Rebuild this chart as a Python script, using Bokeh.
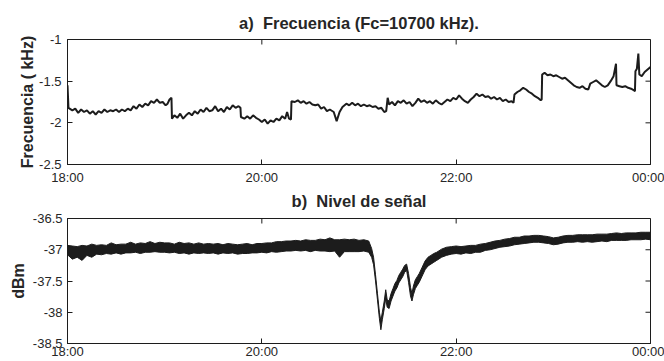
import math
from bokeh.plotting import figure
from bokeh.layouts import column
from bokeh.models import FixedTicker, Range1d, Title
from bokeh.embed import file_html
from bokeh.resources import INLINE

# ---------------- data ----------------
x_ticks = [0, 2, 4, 6]
x_tick_labels = ["18:00", "20:00", "22:00", "00:00"]

freq_ticks = [-2.5, -2.0, -1.5, -1.0]
freq_tick_labels = ["-2.5", "-2", "-1.5", "-1"]
lvl_ticks = [-38.5, -38.0, -37.5, -37.0, -36.5]
lvl_tick_labels = ["-38.5", "-38", "-37.5", "-37", "-36.5"]

# frequency offset (kHz) vs hours after 18:00
freq_t = [0.00, 0.01, 0.05, 0.08, 0.11, 0.14, 0.17, 0.20, 0.23, 0.26, 0.29, 0.32, 0.35, 0.38, 0.41, 0.44,
          0.47, 0.50, 0.53, 0.56, 0.59, 0.62, 0.65, 0.68, 0.71, 0.74, 0.77, 0.80, 0.83, 0.86, 0.89, 0.92,
          0.95, 0.98, 1.01, 1.03, 1.05, 1.07, 1.075, 1.10, 1.13, 1.16, 1.19, 1.22, 1.25, 1.28, 1.31, 1.34,
          1.37, 1.40, 1.43, 1.46, 1.49, 1.52, 1.55, 1.58, 1.61, 1.64, 1.67, 1.70, 1.73, 1.76, 1.78, 1.785,
          1.82, 1.85, 1.88, 1.91, 1.94, 1.97, 2.00, 2.03, 2.06, 2.09, 2.12, 2.15, 2.18, 2.21, 2.24, 2.26,
          2.28, 2.30, 2.305, 2.34, 2.37, 2.40, 2.43, 2.46, 2.49, 2.52, 2.55, 2.58, 2.61, 2.64, 2.67, 2.70,
          2.74, 2.77, 2.80, 2.83, 2.87, 2.90, 2.93, 2.96, 2.99, 3.02, 3.05, 3.08, 3.11, 3.14, 3.17, 3.20,
          3.23, 3.26, 3.28, 3.295, 3.31, 3.34, 3.37, 3.40, 3.43, 3.46, 3.49, 3.52, 3.55, 3.58, 3.61, 3.64,
          3.67, 3.70, 3.73, 3.76, 3.79, 3.82, 3.85, 3.88, 3.91, 3.94, 3.97, 4.00, 4.03, 4.06, 4.09, 4.12,
          4.15, 4.18, 4.21, 4.24, 4.27, 4.30, 4.33, 4.36, 4.39, 4.42, 4.45, 4.48, 4.51, 4.54, 4.57, 4.59,
          4.60, 4.63, 4.66, 4.69, 4.72, 4.75, 4.78, 4.81, 4.84, 4.87, 4.88, 4.885, 4.91, 4.94, 4.97, 5.00,
          5.03, 5.06, 5.09, 5.12, 5.15, 5.18, 5.21, 5.24, 5.27, 5.30, 5.33, 5.36, 5.38, 5.41, 5.44, 5.47,
          5.50, 5.53, 5.56, 5.59, 5.62, 5.645, 5.65, 5.68, 5.71, 5.74, 5.77, 5.80, 5.83, 5.84, 5.845, 5.86,
          5.875, 5.885, 5.91, 5.94, 5.97, 6.00]
freq_v = [-1.55, -1.82, -1.85, -1.83, -1.88, -1.84, -1.87, -1.85, -1.89, -1.86, -1.90, -1.86, -1.88, -1.84, -1.87, -1.85,
          -1.86, -1.84, -1.87, -1.84, -1.86, -1.83, -1.85, -1.80, -1.83, -1.78, -1.81, -1.77, -1.79, -1.74, -1.76, -1.72,
          -1.76, -1.75, -1.79, -1.77, -1.72, -1.70, -1.95, -1.91, -1.94, -1.89, -1.95, -1.91, -1.88, -1.91, -1.86, -1.89,
          -1.84, -1.87, -1.82, -1.86, -1.85, -1.80, -1.86, -1.83, -1.87, -1.81, -1.84, -1.79, -1.82, -1.80, -1.82, -1.93,
          -1.95, -1.92, -1.95, -1.91, -1.94, -1.96, -1.99, -1.96, -2.01, -1.97, -1.99, -1.95, -1.97, -1.92, -1.95, -1.87,
          -1.95, -1.96, -1.74, -1.75, -1.73, -1.76, -1.74, -1.77, -1.75, -1.78, -1.79, -1.78, -1.83, -1.81, -1.86, -1.84,
          -1.87, -1.98, -1.87, -1.81, -1.77, -1.79, -1.76, -1.79, -1.77, -1.80, -1.78, -1.80, -1.79, -1.81, -1.80, -1.83,
          -1.82, -1.87, -1.86, -1.70, -1.78, -1.75, -1.79, -1.74, -1.76, -1.73, -1.77, -1.75, -1.80, -1.76, -1.71, -1.75,
          -1.73, -1.76, -1.74, -1.77, -1.73, -1.76, -1.78, -1.75, -1.72, -1.74, -1.70, -1.72, -1.67, -1.71, -1.74, -1.76,
          -1.72, -1.69, -1.65, -1.68, -1.66, -1.69, -1.68, -1.71, -1.69, -1.72, -1.70, -1.74, -1.72, -1.75, -1.74, -1.76,
          -1.66, -1.63, -1.61, -1.58, -1.60, -1.63, -1.65, -1.68, -1.70, -1.73, -1.72, -1.42, -1.40, -1.43, -1.42, -1.44,
          -1.43, -1.45, -1.47, -1.46, -1.49, -1.52, -1.55, -1.57, -1.58, -1.56, -1.59, -1.60, -1.53, -1.51, -1.49, -1.52,
          -1.55, -1.57, -1.55, -1.50, -1.44, -1.29, -1.55, -1.56, -1.57, -1.56, -1.58, -1.59, -1.61, -1.62, -1.38, -1.35,
          -1.17, -1.42, -1.44, -1.39, -1.36, -1.33]

# signal level (dBm): upper / lower edge of the noisy trace vs hours after 18:00
lvl_t = [0.00, 0.05, 0.10, 0.15, 0.20, 0.25, 0.30, 0.35, 0.40, 0.45, 0.50, 0.55, 0.60, 0.65, 0.70, 0.75,
         0.80, 0.85, 0.90, 0.95, 1.00, 1.05, 1.10, 1.15, 1.20, 1.25, 1.30, 1.35, 1.40, 1.45, 1.50, 1.55,
         1.60, 1.65, 1.70, 1.75, 1.80, 1.85, 1.90, 1.95, 2.00, 2.05, 2.10, 2.15, 2.20, 2.25, 2.30, 2.35,
         2.40, 2.45, 2.50, 2.55, 2.60, 2.65, 2.70, 2.75, 2.80, 2.85, 2.90, 2.95, 3.00, 3.05, 3.10,
         3.13, 3.15, 3.17, 3.19, 3.21, 3.225, 3.24, 3.26, 3.275, 3.29, 3.31, 3.33, 3.35, 3.37, 3.39, 3.41,
         3.43, 3.45, 3.47, 3.49, 3.51, 3.53, 3.545, 3.56, 3.58, 3.60, 3.62, 3.65, 3.68, 3.71, 3.74, 3.77,
         3.80, 3.85, 3.90, 3.95, 4.00, 4.05, 4.10, 4.15, 4.20, 4.25, 4.30, 4.35, 4.40, 4.45, 4.50, 4.55,
         4.60, 4.65, 4.70, 4.75, 4.80, 4.85, 4.90, 4.95, 5.00, 5.05, 5.10, 5.15, 5.20, 5.25, 5.30, 5.35,
         5.40, 5.45, 5.50, 5.55, 5.60, 5.65, 5.70, 5.75, 5.80, 5.85, 5.90, 5.95, 6.00]
lvl_hi = [-36.93, -36.94, -36.95, -36.93, -36.94, -36.91, -36.93, -36.92, -36.93, -36.89, -36.92, -36.91, -36.91, -36.88, -36.91, -36.89,
          -36.90, -36.87, -36.90, -36.88, -36.89, -36.89, -36.91, -36.88, -36.90, -36.89, -36.91, -36.89, -36.91, -36.90, -36.91, -36.90,
          -36.92, -36.90, -36.91, -36.92, -36.91, -36.90, -36.92, -36.90, -36.90, -36.89, -36.89, -36.87, -36.87, -36.86, -36.86, -36.85,
          -36.86, -36.84, -36.85, -36.85, -36.83, -36.84, -36.81, -36.84, -36.84, -36.83, -36.84, -36.83, -36.85, -36.84, -36.86,
          -36.98, -37.12, -37.40, -37.70, -38.00, -38.14, -38.00, -37.82, -37.64, -37.80, -37.82, -37.70, -37.62, -37.54, -37.49, -37.41,
          -37.36, -37.31, -37.25, -37.23, -37.38, -37.60, -37.70, -37.58, -37.48, -37.43, -37.38, -37.28, -37.18, -37.12, -37.09, -37.06,
          -37.04, -36.99, -36.96, -36.95, -36.94, -36.95, -36.94, -36.93, -36.93, -36.91, -36.90, -36.88, -36.86, -36.85, -36.83, -36.82,
          -36.80, -36.80, -36.78, -36.78, -36.77, -36.77, -36.78, -36.79, -36.81, -36.80, -36.78, -36.77, -36.77, -36.76, -36.76, -36.76,
          -36.76, -36.75, -36.75, -36.75, -36.74, -36.73, -36.74, -36.73, -36.73, -36.73, -36.72, -36.72, -36.72]
lvl_lo = [-37.08, -37.15, -37.12, -37.17, -37.09, -37.12, -37.07, -37.08, -37.06, -37.07, -37.05, -37.07, -37.05, -37.05, -37.04, -37.06,
          -37.04, -37.04, -37.03, -37.04, -37.04, -37.05, -37.04, -37.06, -37.05, -37.07, -37.05, -37.06, -37.05, -37.06, -37.05, -37.07,
          -37.05, -37.06, -37.05, -37.07, -37.06, -37.06, -37.05, -37.05, -37.04, -37.05, -37.03, -37.04, -37.03, -37.02, -37.02, -37.01,
          -37.02, -37.01, -37.03, -37.01, -37.02, -37.02, -37.03, -37.02, -37.12, -37.03, -37.03, -37.03, -37.03, -37.02, -37.04,
          -37.12, -37.24, -37.50, -37.80, -38.10, -38.28, -38.12, -37.94, -37.78, -37.92, -37.94, -37.82, -37.74, -37.66, -37.61, -37.53,
          -37.48, -37.43, -37.36, -37.33, -37.52, -37.74, -37.82, -37.72, -37.62, -37.57, -37.52, -37.42, -37.32, -37.26, -37.23, -37.20,
          -37.17, -37.12, -37.09, -37.07, -37.06, -37.07, -37.05, -37.06, -37.04, -37.04, -37.01, -37.00, -36.98, -36.96, -36.95, -36.94,
          -36.92, -36.91, -36.90, -36.89, -36.88, -36.88, -36.89, -36.90, -36.92, -36.91, -36.89, -36.88, -36.88, -36.87, -36.88, -36.87,
          -36.88, -36.87, -36.86, -36.87, -36.85, -36.85, -36.85, -36.85, -36.84, -36.84, -36.84, -36.83, -36.84]

# ---------------- styling ----------------
FONT = "Liberation Sans"
INK = "#1c1c1c"
TXT = "#262626"


def make_title(text, standoff):
    return Title(text=text, align="center", text_font=FONT, text_font_size="16.5px",
                 text_font_style="bold", text_color=TXT, standoff=standoff,
                 vertical_align="bottom")


def base_fig(height, yr, yticks, ylabels, ylabel, mb_left, mb_top, mb_bottom,
             y_std, ylab_std, x_std):
    p = figure(width=664, height=height, output_backend="svg", toolbar_location=None,
               x_range=Range1d(0, 6), y_range=Range1d(*yr),
               min_border_left=mb_left, min_border_right=14, min_border_top=mb_top,
               min_border_bottom=mb_bottom)
    p.grid.visible = False
    p.outline_line_color = INK
    p.outline_line_width = 1
    p.background_fill_color = "white"
    p.border_fill_color = "white"

    xa = p.xaxis[0]
    xa.ticker = FixedTicker(ticks=x_ticks)
    xa.major_label_overrides = {t: l for t, l in zip(x_ticks, x_tick_labels)}
    xa.major_label_standoff = x_std
    ya = p.yaxis[0]
    ya.ticker = FixedTicker(ticks=yticks)
    ya.major_label_overrides = {t: l for t, l in zip(yticks, ylabels)}
    ya.axis_label = ylabel
    ya.axis_label_text_font = FONT
    ya.axis_label_text_font_size = "16px"
    ya.axis_label_text_font_style = "bold"
    ya.axis_label_text_color = TXT
    ya.axis_label_standoff = ylab_std
    ya.major_label_standoff = y_std
    for ax in (xa, ya):
        ax.major_label_text_font = FONT
        ax.major_label_text_font_size = "13px"
        ax.major_label_text_color = TXT
        ax.axis_line_color = INK
        ax.major_tick_line_color = INK
        ax.major_tick_in = 5
        ax.major_tick_out = 0
        ax.minor_tick_line_color = None

    # inward ticks on the top and right edges of the box (MATLAB style)
    p.ray(x=x_ticks, y=[yr[1]] * len(x_ticks), length=5, length_units="screen",
          angle=-math.pi / 2, line_color=INK, line_width=1)
    p.ray(x=[x_ticks[-1]] * len(yticks), y=yticks, length=5, length_units="screen",
          angle=math.pi, line_color=INK, line_width=1)
    return p


p1 = base_fig(211, (-2.5, -1.0), freq_ticks, freq_tick_labels, "Frecuencia ( kHz)",
              62, 39, 0, 6, 0, 5)
p1.add_layout(make_title("a)\u00a0 Frecuencia (Fc=10700 kHz).", 16), "above")
# the second panel's title sits in the gap between the two boxes
p1.add_layout(make_title("b)\u00a0 Nivel de señal", 4), "below")
p1.line(freq_t, freq_v, line_color=INK, line_width=2)

p2 = base_fig(150, (-38.5, -36.5), lvl_ticks, lvl_tick_labels, "dBm",
              67, 7, 17, 5, 3, 0)
p2.varea(x=lvl_t, y1=lvl_lo, y2=lvl_hi, fill_color=INK)
p2.line(lvl_t, lvl_hi, line_color=INK, line_width=1)
p2.line(lvl_t, lvl_lo, line_color=INK, line_width=1)

layout = column(p1, p2, spacing=0)
open("out.html", "w").write(file_html(layout, INLINE))
